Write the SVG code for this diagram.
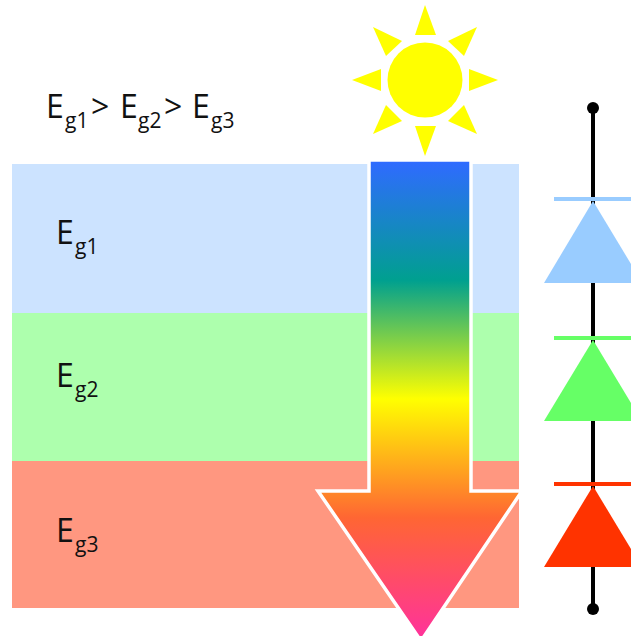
<svg xmlns="http://www.w3.org/2000/svg" width="631" height="636" viewBox="0 0 631 636">
<style>
.t{font-family:"Open Sans","Liberation Sans",sans-serif;font-size:32px;fill:#111}
.s{font-size:21px}
.ray{fill:#ff0}
.wire{stroke:#000;stroke-width:4;fill:none}
</style>
<defs>
<linearGradient id="g" gradientUnits="userSpaceOnUse" x1="0" y1="162" x2="0" y2="636">
<stop offset="0" stop-color="#2f6bff"/>
<stop offset="0.25" stop-color="#00a08f"/>
<stop offset="0.5" stop-color="#ffff00"/>
<stop offset="0.75" stop-color="#ff6633"/>
<stop offset="1" stop-color="#ff3399"/>
</linearGradient>
</defs>
<g id="layers">
<rect id="layer-1" x="12" y="164" width="507" height="149" fill="#cce3ff"/>
<rect id="layer-2" x="12" y="313" width="507" height="148" fill="#adffad"/>
<rect id="layer-3" x="12" y="461" width="507" height="147" fill="#ff9780"/>
</g>
<g id="sun">
<circle cx="425" cy="80" r="37.5" fill="#ff0"/>
<polygon class="ray" points="425,5 415,35 436,35"/>
<polygon class="ray" points="425,156 415,126 436,126"/>
<polygon class="ray" points="352,80 381,69 381,91"/>
<polygon class="ray" points="498,80 469,69 469,91"/>
<polygon class="ray" points="373,27 402,41 386,56"/>
<polygon class="ray" points="477,27 448,41 464,56"/>
<polygon class="ray" points="373,134 386,105 402,121"/>
<polygon class="ray" points="477,134 464,105 448,121"/>
</g>
<g id="spectrum-arrow">
<polygon points="369,160 471,160 471,491 522,491 421,641 318,491 369,491" fill="url(#g)" stroke="#fff" stroke-width="3.5"/>
</g>
<g id="connectors">
<line class="wire" x1="593" y1="108" x2="593" y2="609"/>
<circle cx="593" cy="108" r="6" fill="#000"/>
<circle cx="593" cy="609" r="6" fill="#000"/>
</g>
<g id="diode-1">
<rect x="554" y="197" width="77" height="4" fill="#99ccff"/>
<polygon points="593,201 544,283 631,283 631,264" fill="#99ccff"/>
</g>
<g id="diode-2">
<rect x="554" y="336" width="77" height="4" fill="#66ff66"/>
<polygon points="593,340 544,421 631,421 631,403" fill="#66ff66"/>
</g>
<g id="diode-3">
<rect x="554" y="482" width="77" height="4" fill="#ff3300"/>
<polygon points="593,486 544,567 631,567 631,549" fill="#ff3300"/>
</g>
<g id="label-relation">
<text class="t" y="118"><tspan x="46">E</tspan><tspan class="s" x="65" y="128">g1</tspan><tspan x="91" y="118">&gt;</tspan><tspan x="120">E</tspan><tspan class="s" x="138" y="128">g2</tspan><tspan x="164" y="118">&gt;</tspan><tspan x="192">E</tspan><tspan class="s" x="211" y="128">g3</tspan></text>
</g>
<g id="label-eg1"><text class="t" x="56" y="244">E<tspan class="s" x="75" y="254">g1</tspan></text></g>
<g id="label-eg2"><text class="t" x="56" y="387">E<tspan class="s" x="75" y="397">g2</tspan></text></g>
<g id="label-eg3"><text class="t" x="56" y="542">E<tspan class="s" x="75" y="552">g3</tspan></text></g>
</svg>
